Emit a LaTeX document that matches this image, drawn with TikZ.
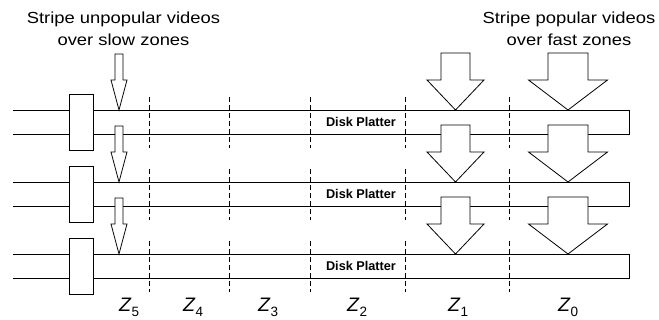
\documentclass[tikz,border=0pt]{standalone}
\usepackage{fontspec}
\setmainfont{Liberation Sans}
\tikzset{
  platline/.style={line width=0.8pt, draw=black},
  spindle/.style={line width=0.8pt, draw=black, fill=white},
  zoneline/.style={line width=0.7pt, dash pattern=on 5pt off 3pt},
  striparrow/.style={line width=0.8pt, draw=black, fill=white, line join=miter},
  titletext/.style={font=\fontsize{16}{21.7}\selectfont, align=center, inner sep=0pt},
  platlabel/.style={font=\bfseries\fontsize{12.7}{14}\selectfont, inner sep=0pt},
  zonelabel/.style={font=\fontsize{19.5}{24}\selectfont, inner sep=0pt, anchor=base west}
}
\newcommand\stripearrow[6]{%
  \draw[striparrow] (#1-#2,#4) -- (#1+#2,#4) -- (#1+#2,#5) -- (#1+#3,#5)
    -- (#1,#6) -- (#1-#3,#5) -- (#1-#2,#5) -- cycle;}
\newcommand\zonesub[1]{\textit{Z}\raisebox{-5pt}{\fontsize{13.5}{14}\selectfont #1}}
\newcommand\wideline[1]{\scalebox{1.15}[1]{#1}}
\begin{document}
\begin{tikzpicture}[x=1pt,y=-1pt]
  \useasboundingbox (0,0) rectangle (659,320);
  % platters
  \foreach \T/\n in {110/a,182/b,254/c}{
    \draw[platline] (13,\T) -- (629,\T) -- (629,\T+24) -- (13,\T+24);
    \draw[spindle] (69,\T-16) rectangle (93,\T+40);
    \foreach \zx in {149,229,310,405,509}{
      \draw[zoneline] (\zx,\T-13) -- (\zx,\T+38);
    }
    \node[platlabel] (plat\n) at (361,\T+12) {Disk Platter};
  }
  % arrows
  \foreach \d in {0,72,144}{
    \stripearrow{119}{4}{8}{54+\d}{80+\d}{110+\d}
    \stripearrow{455.5}{14.5}{28.5}{53+\d}{80+\d}{110+\d}
    \stripearrow{568}{20}{39.5}{53+\d}{80+\d}{110+\d}
  }
  % titles
  \node[titletext] (tslow) at (123.5,28.5) {\wideline{Stripe unpopular videos}\\\wideline{over slow zones}};
  \node[titletext] (tfast) at (569,28.5) {\wideline{Stripe popular videos}\\\wideline{over fast zones}};
  % zone labels
  \node[zonelabel] (z5) at (119,311.5) {\zonesub{5}};
  \node[zonelabel] (z4) at (183,311.5) {\zonesub{4}};
  \node[zonelabel] (z3) at (258,311.5) {\zonesub{3}};
  \node[zonelabel] (z2) at (347,311.5) {\zonesub{2}};
  \node[zonelabel] (z1) at (448,311.5) {\zonesub{1}};
  \node[zonelabel] (z0) at (558,311.5) {\zonesub{0}};
\end{tikzpicture}
\end{document}
